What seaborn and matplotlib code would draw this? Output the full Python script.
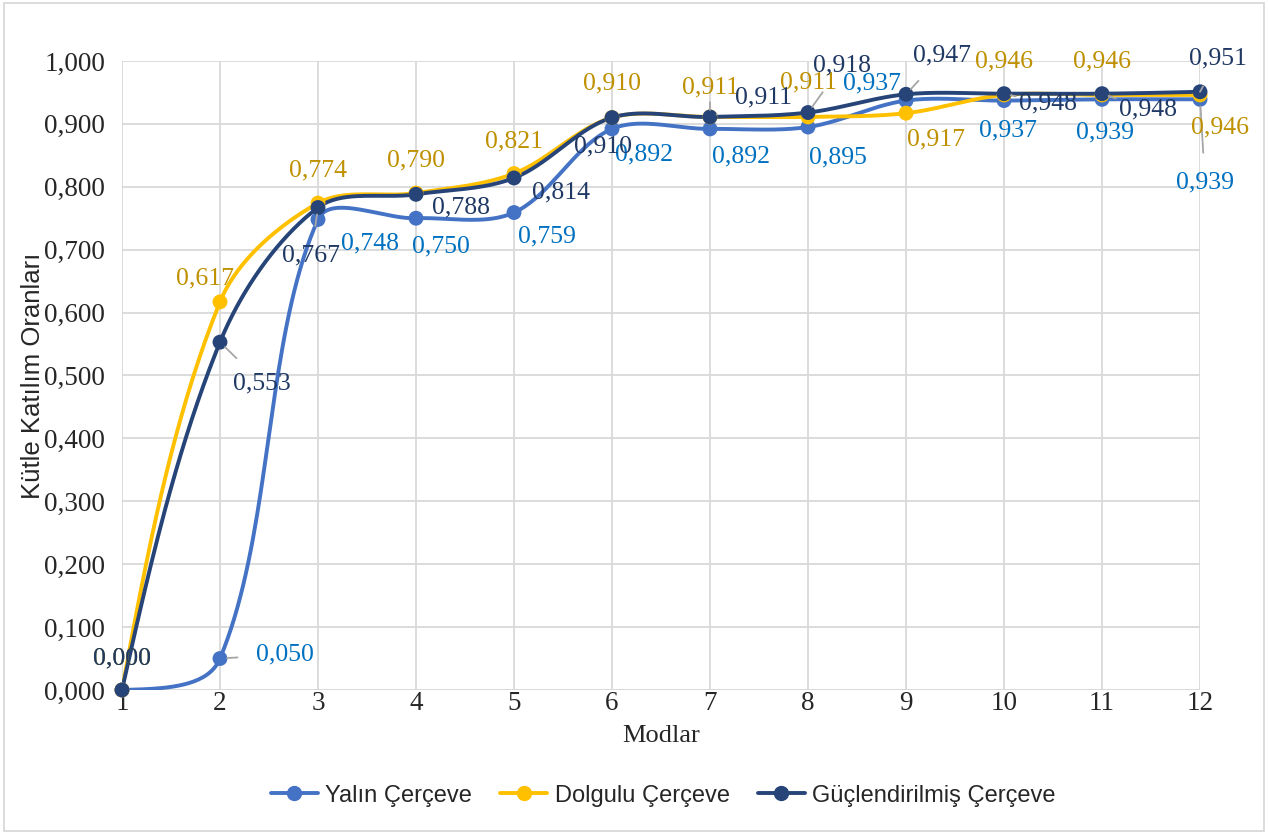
import numpy as np
import pandas as pd
import seaborn as sns
import matplotlib.pyplot as plt
from matplotlib.lines import Line2D
from matplotlib.patches import Rectangle

modes = list(range(1, 13))
yalin = [0.000, 0.050, 0.748, 0.750, 0.759, 0.892, 0.892, 0.895, 0.937, 0.937, 0.939, 0.939]
dolgulu = [0.000, 0.617, 0.774, 0.790, 0.821, 0.910, 0.911, 0.911, 0.917, 0.946, 0.946, 0.946]
guclu = [0.000, 0.553, 0.767, 0.788, 0.814, 0.910, 0.911, 0.918, 0.947, 0.948, 0.948, 0.951]
series_names = ["Yalın Çerçeve", "Dolgulu Çerçeve", "Güçlendirilmiş Çerçeve"]

line_colors = ["#4472C4", "#FFC000", "#264478"]
label_colors = ["#0070C0", "#BF9000", "#1F3864"]

# label offsets in pixels (dx, dy), and whether a leader line is drawn
offs = [
    [(0, 32, 0), (65, 4, 1), (52, -24, 0), (25, -28, 0), (33, -24, 0), (32, -26, 0),
     (31, -28, 0), (30, -30, 0), (-34, 17, 0), (4, -30, 0), (3, -33, 0), (5, -83, 1)],
    [(0, 32, 0), (-15, 23, 0), (0, 33, 0), (0, 33, 0), (0, 32, 0), (0, 34, 0),
     (0, 29, 1), (0, 34, 0), (30, -26, 0), (0, 33, 0), (0, 33, 0), (20, -33, 0)],
    [(0, 32, 0), (42, -41, 1), (-7, -48, 1), (45, -13, 0), (47, -14, 0), (-9, -29, 0),
     (53, 19, 1), (34, 47, 1), (36, 39, 1), (44, -10, 1), (46, -16, 1), (18, 33, 1)],
]


def smooth(ax, xs, ys, n=40):
    # Excel-like smoothed line, built in screen space so the aspect is right
    p = ax.transData.transform(np.column_stack([xs, ys]).astype(float))
    m = len(p)
    out = []
    t = np.linspace(0, 1, n)[:, None]
    for i in range(m - 1):
        p1, p2 = p[i], p[i + 1]
        d12 = np.linalg.norm(p2 - p1)
        c1 = c2 = None
        if i > 0:
            p0 = p[i - 1]
            d01 = np.linalg.norm(p1 - p0)
            c1 = p1 + (p2 - p0) * d12 / (d01 + d12) / 3
        if i < m - 2:
            p3 = p[i + 2]
            d23 = np.linalg.norm(p3 - p2)
            c2 = p2 - (p3 - p1) * d12 / (d12 + d23) / 3
        if c1 is None:
            c1 = p1 + (c2 - p1) / 2
        if c2 is None:
            c2 = p2 + (c1 - p2) / 2
        seg = (1 - t) ** 3 * p1 + 3 * (1 - t) ** 2 * t * c1 + 3 * (1 - t) * t ** 2 * c2 + t ** 3 * p2
        out.append(seg if i == 0 else seg[1:])
    return ax.transData.inverted().transform(np.vstack(out))


sns.set_style("white")
plt.rcParams['font.family'] = ['Liberation Serif', 'DejaVu Serif']
sans = ["Liberation Sans", "DejaVu Sans"]

fig = plt.figure(figsize=(12.68, 8.34), dpi=100)
ax = fig.add_axes([0.0962, 0.1727, 0.8502, 0.7542])
ax.set_xlim(1, 12)
ax.set_ylim(0, 1)

frames = []
for name, vals in zip(series_names, [yalin, dolgulu, guclu]):
    c = smooth(ax, modes, vals)
    frames.append(pd.DataFrame({"x": c[:, 0], "y": c[:, 1], "seri": name}))
curve = pd.concat(frames, ignore_index=True)
points = pd.DataFrame({
    "x": modes * 3,
    "y": yalin + dolgulu + guclu,
    "seri": np.repeat(series_names, 12),
})

pal = dict(zip(series_names, line_colors))
sns.lineplot(data=curve, x="x", y="y", hue="seri", palette=pal, sort=False,
             estimator=None, linewidth=2.8, legend=False, ax=ax, zorder=3)
sns.scatterplot(data=points, x="x", y="y", hue="seri", palette=pal, s=115,
                edgecolor="none", legend=False, ax=ax, zorder=4, clip_on=False)

for k, vals in enumerate([yalin, dolgulu, guclu]):
    for i, v in enumerate(vals):
        dx, dy, lead = offs[k][i]
        ap = dict(arrowstyle="-", color="#A6A6A6", lw=1.3, shrinkA=11, shrinkB=5) if lead else None
        ax.annotate(f"{v:.3f}".replace(".", ","), (modes[i], v), xytext=(dx, dy),
                    textcoords="offset pixels", ha="center", va="center",
                    fontsize=18.5, color=label_colors[k], arrowprops=ap, zorder=5)

ax.set_xlim(1, 12)
ax.set_ylim(0, 1)
ax.set_xticks(modes)
yt = np.arange(0, 1.01, 0.1)
ax.set_yticks(yt)
ax.set_yticklabels([f"{t:.3f}".replace(".", ",") for t in yt])
ax.tick_params(axis="both", labelsize=19.5, length=0)
ax.tick_params(axis="x", pad=1)
ax.tick_params(axis="y", pad=12)
ax.grid(True, color="#D9D9D9", linewidth=1.3)
ax.set_axisbelow(True)
for s in ax.spines.values():
    s.set_visible(False)
ax.axhline(0, color="#D9D9D9", lw=1.3, zorder=1)

ax.set_xlabel("Modlar", fontsize=19, labelpad=6)
ax.set_ylabel("Kütle Katılım Oranları", fontsize=18.5, family=sans, va="center")
ax.yaxis.set_label_coords(-0.083, 0.5)

handles = [Line2D([0], [0], color=c, lw=2.8, marker="o", markersize=10) for c in line_colors]
fig.legend(handles, series_names, loc="center", bbox_to_anchor=(0.523, 0.046), ncol=3,
           frameon=False, prop={"family": sans, "size": 17},
           handlelength=2.0, columnspacing=1.2, handletextpad=0.3)

fig.patches.append(Rectangle((0.003, 0.004), 0.994, 0.992, transform=fig.transFigure,
                             fill=False, edgecolor="#D9D9D9", lw=1.3))

fig.savefig("out.png", dpi=100)
